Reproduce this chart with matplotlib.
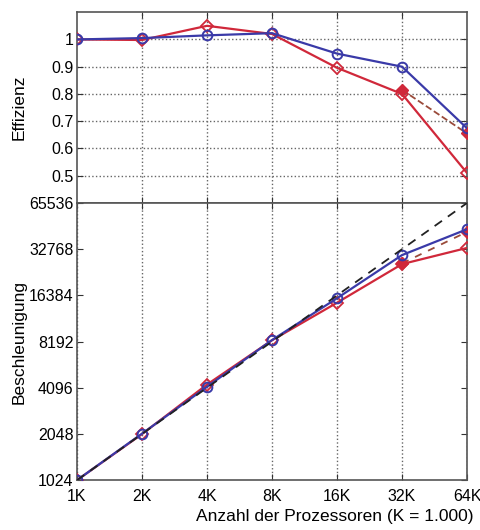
import matplotlib.pyplot as plt
from matplotlib.ticker import FixedLocator, NullLocator

plt.rcParams['font.family'] = ['Liberation Sans', 'DejaVu Sans']
plt.rcParams['font.size'] = 11.5

# Anzahl der Prozessoren
procs = [1024, 2048, 4096, 8192, 16384, 32768, 65536]
proc_labels = ['1K', '2K', '4K', '8K', '16K', '32K', '64K']

# Effizienz
eff_blue = [1.0, 1.005, 1.015, 1.023, 0.948, 0.90, 0.674]
eff_red = [1.0, 0.998, 1.05, 1.02, 0.896, 0.80, 0.51]
procs_red_fill = [32768, 65536]
eff_red_fill = [0.815, 0.655]

# Beschleunigung
sp_blue = [1024, 2058, 4157, 8380, 15700, 30000, 44200]
sp_red = [1024, 2044, 4300, 8356, 14680, 26200, 33400]
sp_red_fill = [26500, 42500]
sp_ideal = [1024, 65536]
procs_ideal = [1024, 65536]

eff_ticks = [0.5, 0.6, 0.7, 0.8, 0.9, 1.0]
eff_labels = ['0.5', '0.6', '0.7', '0.8', '0.9', '1']
sp_ticks = [1024, 2048, 4096, 8192, 16384, 32768, 65536]

blue = '#3a3aa8'
red = '#d0283a'
darkred = '#9a4a3a'

fig = plt.figure(figsize=(4.81, 5.30), dpi=100)
ax1 = fig.add_axes([0.160, 0.617, 0.811, 0.360])
ax2 = fig.add_axes([0.160, 0.094, 0.811, 0.523])

for ax in (ax1, ax2):
    ax.set_xscale('log', base=2)
    ax.set_xlim(1024, 65536)
    ax.xaxis.set_minor_locator(NullLocator())
    ax.tick_params(direction='in', top=True, right=True, length=4,
                   color='#333333', labelsize=11.5, pad=2.5)
    for s in ax.spines.values():
        s.set_color('#555555')
        s.set_linewidth(1.2)

# oben: Effizienz
ax1.plot(procs, eff_red, color=red, lw=1.6, marker='D', ms=6,
         mfc='none', mec=red, mew=1.3, zorder=3)
ax1.plot(procs_red_fill, eff_red_fill, color=darkred, lw=1.3, ls='--',
         marker='D', ms=6, mfc=red, mec=red, zorder=4)
ax1.plot(procs, eff_blue, color=blue, lw=1.6, marker='o', ms=7,
         mfc='none', mec=blue, mew=1.4, zorder=5)
ax1.set_ylim(0.4, 1.1)
ax1.yaxis.set_major_locator(FixedLocator(eff_ticks))
ax1.set_yticklabels(eff_labels)
ax1.xaxis.set_major_locator(FixedLocator(procs[1:-1]))
ax1.set_xticklabels(proc_labels[1:-1])
ax1.tick_params(axis='x', pad=3)
ax1.grid(True, ls=':', color='#666666', lw=1.0)
ax1.set_ylabel('Effizienz', fontsize=12.5)
ax1.yaxis.set_label_coords(-0.128, 0.5)

# unten: Beschleunigung
ax2.set_yscale('log', base=2)
ax2.plot(procs, sp_red, color=red, lw=1.6, marker='D', ms=6,
         mfc='none', mec=red, mew=1.3, zorder=3)
ax2.plot(procs_red_fill, sp_red_fill, color=darkred, lw=1.3, ls='--',
         marker='D', ms=6, mfc=red, mec=red, zorder=4,
         dashes=(4, 4))
ax2.plot(procs, sp_blue, color=blue, lw=1.6, marker='o', ms=7,
         mfc='none', mec=blue, mew=1.4, zorder=5)
ax2.plot(procs_ideal, sp_ideal, color='#222222', lw=1.3, ls='--',
         dashes=(5, 4), zorder=6)
ax2.set_ylim(1024, 65536)
ax2.yaxis.set_major_locator(FixedLocator(sp_ticks))
ax2.yaxis.set_minor_locator(NullLocator())
ax2.set_yticklabels([str(t) for t in sp_ticks])
ax2.xaxis.set_major_locator(FixedLocator(procs))
ax2.set_xticklabels(proc_labels)
ax2.tick_params(axis='x', pad=6)
ax2.grid(True, axis='x', ls=':', color='#666666', lw=1.0)
ax2.set_ylabel('Beschleunigung', fontsize=12.5)
ax2.yaxis.set_label_coords(-0.128, 0.5)
ax2.set_xlabel('Anzahl der Prozessoren (K = 1.000)', fontsize=12.5)
ax2.xaxis.set_label_coords(0.66, -0.105)

fig.savefig('out.png', dpi=100)
